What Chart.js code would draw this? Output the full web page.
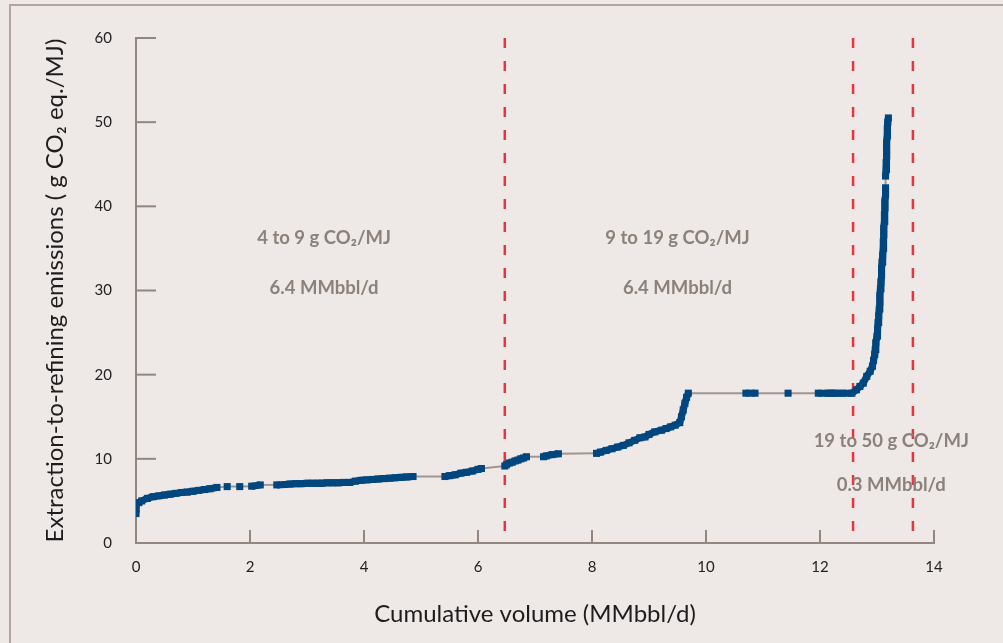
<!DOCTYPE html>
<html>
<head>
<meta charset="utf-8">
<script src="https://cdn.jsdelivr.net/npm/chart.js@4/dist/chart.umd.min.js"></script>
<style>
  html, body { margin: 0; padding: 0; background: #eee9e7; }
  #frame { position: absolute; left: 9px; top: 4px; width: 1100px; height: 700px;
           border-top: 2px solid #b4a59e; border-left: 2px solid #b4a59e; }
  #myChart { position: absolute; left: 0; top: 0; }
</style>
</head>
<body>
<div id="frame"></div>
<canvas id="myChart" width="1003" height="643"></canvas>
<script>
/* supply curve */
var volume = [0, 0, 0, 0.05, 0.1, 0.2, 0.3, 0.4, 0.5, 0.6, 0.7, 0.8, 0.9, 1.0, 1.1, 1.2, 1.3, 1.42,
  1.6, 1.82, 2.03, 2.18, 2.47, 2.61,
  2.7, 2.8, 2.9, 3.0, 3.1, 3.2, 3.26,
  3.35, 3.45, 3.55, 3.65, 3.75,
  3.85, 3.95, 4.05, 4.15, 4.25, 4.35, 4.45, 4.55, 4.65, 4.75, 4.86,
  5.42, 5.5, 5.6, 5.7, 5.8, 5.9, 6.0, 6.06,
  6.47, 6.5, 6.55, 6.6, 6.65, 6.7, 6.75, 6.8, 6.85,
  7.15, 7.2, 7.3, 7.41,
  8.08, 8.15, 8.25, 8.35, 8.45, 8.55, 8.65, 8.75, 8.84,
  8.93, 9.0, 9.1,
  9.22, 9.3, 9.38, 9.46, 9.54,
  9.57, 9.6, 9.63, 9.66, 9.69,
  10.7, 10.86, 11.44, 11.97, 12.14, 12.2, 12.27, 12.4, 12.56,
  12.64, 12.7, 12.76, 12.82, 12.88, 12.92, 12.94, 12.96, 12.97, 12.98, 13.0, 13.01, 13.02,
  13.03, 13.04, 13.05, 13.05, 13.06, 13.07, 13.08, 13.08, 13.09, 13.1, 13.11, 13.11, 13.12,
  13.12, 13.13, 13.13, 13.14, 13.14, 13.15, 13.15, 13.15, 13.16, 13.16, 13.17, 13.17, 13.17,
  13.18, 13.18, 13.19, 13.2];
var emissions = [3.5, 4.1, 4.6, 4.8, 5.0, 5.3, 5.5, 5.6, 5.7, 5.8, 5.9, 6.0, 6.05, 6.15, 6.25, 6.35, 6.45, 6.6,
  6.7, 6.7, 6.75, 6.9, 6.9, 6.95,
  7.0, 7.05, 7.05, 7.1, 7.1, 7.1, 7.1,
  7.15, 7.15, 7.15, 7.2, 7.2,
  7.35, 7.45, 7.5, 7.55, 7.6, 7.65, 7.7, 7.75, 7.8, 7.85, 7.9,
  7.9, 8.0, 8.1, 8.3, 8.4, 8.55, 8.75, 8.85,
  9.15, 9.3, 9.5, 9.6, 9.75, 9.85, 10.0, 10.1, 10.25,
  10.25, 10.35, 10.5, 10.6,
  10.65, 10.8, 11.0, 11.2, 11.4, 11.6, 11.9, 12.2, 12.5,
  12.6, 12.9, 13.2,
  13.4, 13.6, 13.8, 14.0, 14.3,
  15.0, 15.8, 16.6, 17.3, 17.8,
  17.8, 17.8, 17.8, 17.8, 17.8, 17.8, 17.8, 17.8, 17.8,
  18.2, 18.6, 19.0, 19.8, 20.4, 21.0, 21.7, 22.4, 23.0, 23.8, 24.6, 25.4, 26.2,
  27.0, 27.8, 28.6, 29.4, 30.2, 31.0, 31.8, 32.6, 33.4, 34.2, 35.0, 35.8, 36.6,
  37.4, 38.2, 39.0, 39.8, 40.6, 41.4, 42.2, 43.6, 44.4, 45.2, 46.0, 46.8, 47.6,
  48.4, 49.2, 50.0, 50.5];

/* red dashed dividers between the three bands */
var dividers = [6.47, 12.58, 13.63];

var xTicks = [0, 2, 4, 6, 8, 10, 12, 14];
var yTicks = [0, 10, 20, 30, 40, 50, 60];

/* band labels: [x center, y, text] */
var notes = [
  [3.3, 36.2, '4 to 9 g CO\u2082/MJ'],
  [3.3, 30.3, '6.4 MMbbl/d'],
  [9.5, 36.2, '9 to 19 g CO\u2082/MJ'],
  [9.5, 30.3, '6.4 MMbbl/d'],
  [13.25, 12.1, '19 to 50 g CO\u2082/MJ'],
  [13.25, 6.9, '0.3 MMbbl/d']
];

var blue = '#00467f';
var grey = '#a3958e';
var axisCol = '#938580';
var font = 'Lato';

var pts = [];
for (var i = 0; i < volume.length; i++) pts.push({x: volume[i], y: emissions[i]});

var sets = [{
  data: pts,
  order: 0,
  borderColor: grey,
  borderWidth: 2,
  pointStyle: 'rect',
  pointRadius: 5,
  pointBackgroundColor: blue,
  pointBorderWidth: 0,
  segment: {
    borderColor: function (c) { return near(c) ? blue : grey; },
    borderWidth: function (c) { return near(c) ? 7 : 2; }
  }
}];
dividers.forEach(function (v) {
  sets.push({
    data: [{x: v, y: 60}, {x: v, y: 0}],
    order: 1,
    borderColor: '#e8343f',
    borderWidth: 2.5,
    borderDash: [10, 13],
    pointRadius: 0
  });
});

function near(c) {
  return Math.hypot(c.p1.x - c.p0.x, c.p1.y - c.p0.y) < 10;
}

// small tick marks pointing into the plot, and the band labels
var extras = {
  id: 'extras',
  afterDatasetsDraw: function (chart) {
    var ctx = chart.ctx, xs = chart.scales.x, ys = chart.scales.y;
    ctx.save();
    ctx.strokeStyle = axisCol;
    ctx.lineWidth = 2;
    yTicks.forEach(function (t) {
      var py = ys.getPixelForValue(t);
      ctx.beginPath(); ctx.moveTo(xs.left, py); ctx.lineTo(xs.left + 20, py); ctx.stroke();
    });
    xTicks.forEach(function (t) {
      var px = xs.getPixelForValue(t);
      ctx.beginPath(); ctx.moveTo(px, ys.bottom); ctx.lineTo(px, ys.bottom - 13); ctx.stroke();
    });
    ctx.fillStyle = '#8c817a';
    ctx.font = 'bold 18.5px ' + font;
    ctx.textAlign = 'center';
    ctx.textBaseline = 'middle';
    notes.forEach(function (n) {
      ctx.fillText(n[2], xs.getPixelForValue(n[0]), ys.getPixelForValue(n[1]));
    });
    ctx.restore();
  }
};

var ctx = document.getElementById('myChart');
var myChart = new Chart(ctx, {
  type: 'line',
  data: { datasets: sets },
  plugins: [extras],
  options: {
    responsive: false,
    animation: false,
    layout: { padding: { top: 38, right: 69, left: 0, bottom: 0 } },
    plugins: { legend: { display: false }, tooltip: { enabled: false } },
    scales: {
      x: {
        type: 'linear', min: 0, max: 14,
        afterFit: function (s) { s.height = 100; },
        afterBuildTicks: function (s) { s.ticks = xTicks.map(function (v) { return {value: v}; }); },
        grid: { display: false },
        border: { color: axisCol, width: 2 },
        ticks: { color: '#222', padding: 7, font: { family: font, size: 15 }, maxRotation: 0 },
        title: { display: true, text: 'Cumulative volume (MMbbl/d)', color: '#1e1c1c',
                 font: { family: font, size: 24 }, padding: { bottom: 14 } }
      },
      y: {
        type: 'linear', min: 0, max: 60,
        afterFit: function (s) { s.width = 136; },
        afterBuildTicks: function (s) { s.ticks = yTicks.map(function (v) { return {value: v}; }); },
        grid: { display: false },
        border: { color: axisCol, width: 2 },
        ticks: { color: '#222', padding: 16, font: { family: font, size: 15 } },
        title: { display: true, text: 'Extraction-to-refining emissions ( g CO\u2082 eq./MJ)', color: '#1e1c1c',
                 font: { family: font, size: 24 }, padding: { top: 41 } }
      }
    }
  }
});
</script>
</body>
</html>
